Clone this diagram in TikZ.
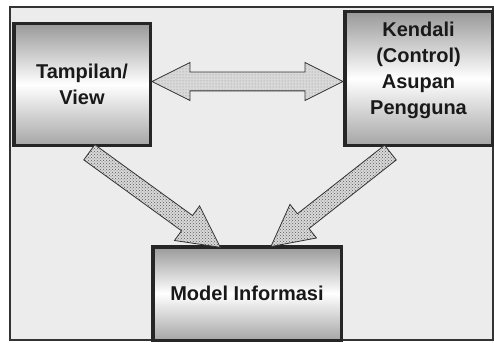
\documentclass[tikz,border=0pt]{standalone}
\usepackage{fontspec}
\setmainfont{Liberation Sans}
\usetikzlibrary{shapes.arrows,patterns,calc}

\tikzset{
  mvcbox/.style={draw=black!85, line width=3.5pt, top color=gray!80, bottom color=gray!70, middle color=white},
  boxtext/.style={font=\bfseries\fontsize{20}{26}\selectfont, align=center, text=black!90},
  pipe/.style={single arrow, draw=black!80, line width=0.8pt, inner xsep=0pt, inner ysep=9pt,
    minimum width=42pt, single arrow head extend=12pt, single arrow tip angle=55,
    preaction={fill=gray!30}, pattern=crosshatch dots, pattern color=black!65,
    sloped, allow upside down},
  link/.style={double arrow, draw=black!80, line width=0.8pt, inner xsep=0pt, inner ysep=9pt,
    preaction={fill=gray!30}, pattern=dots, pattern color=gray!90,
    minimum width=37pt, double arrow head extend=9.5pt, double arrow tip angle=53}
}

\begin{document}
\begin{tikzpicture}[x=1pt, y=-1pt]
    \useasboundingbox (0,0) rectangle (494,342);
    % latar
    \draw[fill=gray!15, draw=black!80, line width=1.5pt] (10,7) rectangle (493,340);

    % kotak
    \node[mvcbox, minimum width=136.5pt, minimum height=121.5pt, boxtext] (view) at (82,84.5) {Tampilan/\\View};
    \node[mvcbox, minimum width=147.5pt, minimum height=133.5pt,
      label={[boxtext, yshift=8pt]center:Kendali\\(Control)\\Asupan\\Pengguna}] (control) at (418.5,78.5) {};
    \node[mvcbox, minimum width=188.5pt, minimum height=93.5pt, boxtext] (model) at (247,293.5) {Model Informasi};

    % panah
    \path (view.east) -- node[link, minimum height=191pt] (viewcontrol) {} (control.west);
    \coordinate (vtip) at ($(model.north west)+(62,-3)$);
    \coordinate (ctail) at ($(control.south)+(-21,0)$);
    \coordinate (ctip) at ($(model.north east)+(-65,-4)$);
    \path let \p1=(view.south), \p2=(vtip), \n1={veclen(\x2-\x1,\y2-\y1)} in
      (\p1) -- node[pipe, minimum height=\n1] (viewmodel) {} (\p2);
    \path let \p1=(ctail), \p2=(ctip), \n1={veclen(\x2-\x1,\y2-\y1)} in
      (\p1) -- node[pipe, minimum height=\n1] (controlmodel) {} (\p2);
\end{tikzpicture}
\end{document}
